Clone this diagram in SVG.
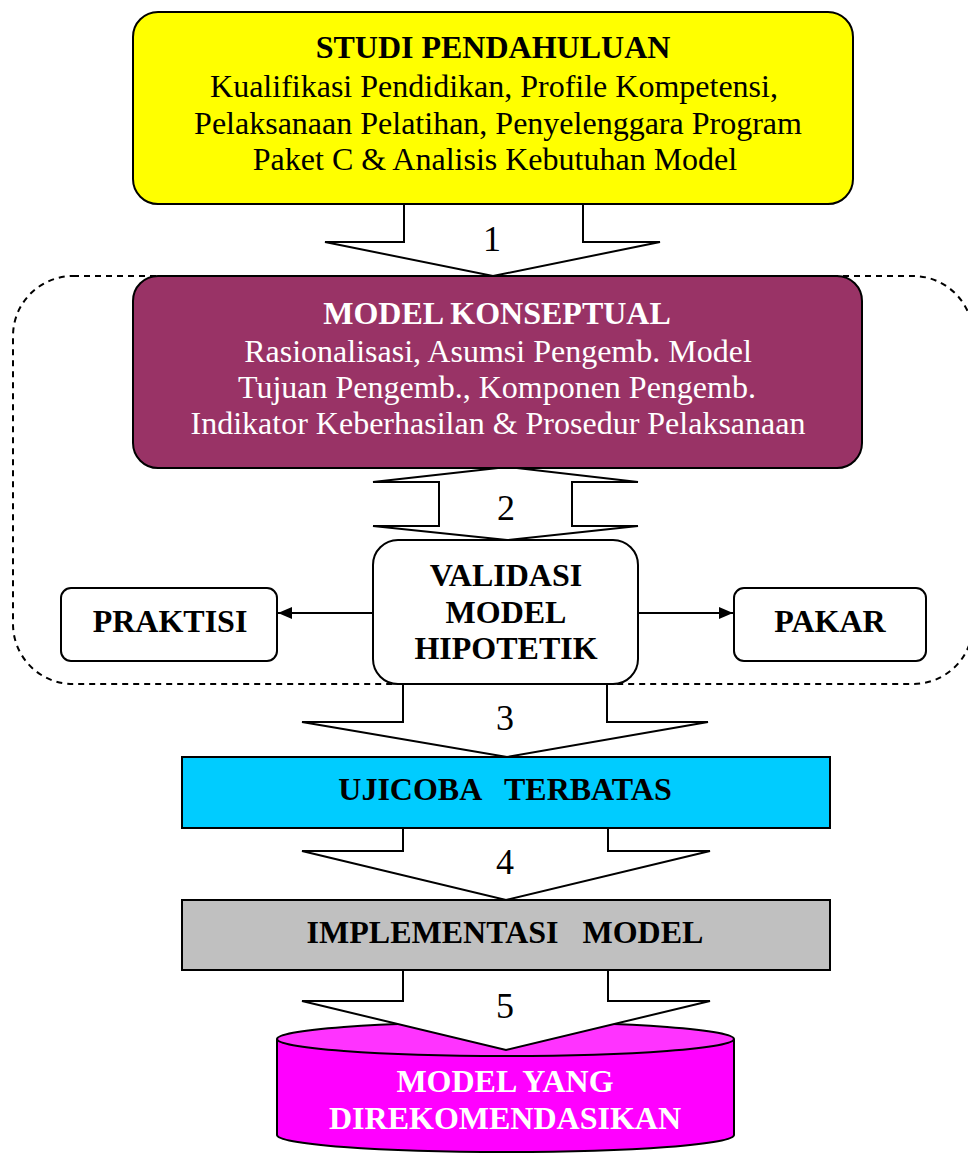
<svg xmlns="http://www.w3.org/2000/svg" width="968" height="1155" viewBox="0 0 968 1155">
<defs>
<style>
.box{stroke:#000;stroke-width:2}
.arr{fill:#fff;stroke:#000;stroke-width:2;stroke-linejoin:miter}
.t{font-family:"Liberation Serif","Times New Roman",serif;text-anchor:middle}
.b{font-weight:bold}
.num{font-family:"Liberation Serif","Times New Roman",serif;font-size:36px;text-anchor:middle}
.pre{white-space:pre}
</style>
<marker id="ah" viewBox="0 0 14 12" refX="14" refY="6" markerWidth="14" markerHeight="12" markerUnits="userSpaceOnUse" orient="auto">
<path d="M0,0 L14,6 L0,12 z" fill="#000"/>
</marker>
</defs>
<rect width="968" height="1155" fill="#fff"/>
<g id="boundary">
<rect x="13" y="276" width="960" height="408" rx="60" ry="60" fill="none" stroke="#000" stroke-width="2" stroke-dasharray="6,5"/>
</g>
<g id="connectors">
<polygon class="arr" points="404,204 404,242 325,242 493,276 660,242 583,242 583,204"/>
<polygon class="arr" points="373,482 439,482 439,526 373,526 507,540 638,526 572,526 572,482 638,482 507,467"/>
<polygon class="arr" points="403,684 403,722 302,722 507,757 708,722 607,722 607,684"/>
<polygon class="arr" points="403,828 403,851 302,851 506,900 710,851 608,851 608,828"/>
<line x1="373" y1="613" x2="278" y2="613" stroke="#000" stroke-width="2" marker-end="url(#ah)"/>
<line x1="638" y1="613" x2="733" y2="613" stroke="#000" stroke-width="2" marker-end="url(#ah)"/>
</g>
<g id="studi">
<rect class="box" x="133" y="12" width="720" height="192" rx="25" fill="#ffff00"/>
<text class="t b" x="493" y="58" font-size="32">STUDI PENDAHULUAN</text>
<text class="t" x="494" y="97" font-size="32">Kualifikasi Pendidikan, Profile Kompetensi,</text>
<text class="t" x="498" y="134" font-size="32">Pelaksanaan Pelatihan, Penyelenggara Program</text>
<text class="t" x="495" y="170" font-size="32">Paket C &amp; Analisis Kebutuhan Model</text>
</g>
<g id="konseptual">
<rect class="box" x="133" y="276" width="729" height="192" rx="25" fill="#993366"/>
<text class="t b" x="497" y="324" font-size="32" fill="#fff">MODEL KONSEPTUAL</text>
<text class="t" x="498" y="362" font-size="32" fill="#fff">Rasionalisasi, Asumsi Pengemb. Model</text>
<text class="t" x="497" y="398" font-size="32" fill="#fff">Tujuan Pengemb., Komponen Pengemb.</text>
<text class="t" x="498" y="434" font-size="32" fill="#fff">Indikator Keberhasilan &amp; Prosedur Pelaksanaan</text>
</g>
<g id="validasi">
<rect class="box" x="373" y="540" width="265" height="144" rx="25" fill="#fff"/>
<text class="t b" x="506" y="586" font-size="32">VALIDASI</text>
<text class="t b" x="506" y="623" font-size="32">MODEL</text>
<text class="t b" x="506" y="659" font-size="32">HIPOTETIK</text>
</g>
<g id="praktisi">
<rect class="box" x="61" y="588" width="216" height="73" rx="10" fill="#fff"/>
<text class="t b" x="170" y="632" font-size="32">PRAKTISI</text>
</g>
<g id="pakar">
<rect class="box" x="734" y="588" width="192" height="73" rx="10" fill="#fff"/>
<text class="t b" x="830" y="632" font-size="32">PAKAR</text>
</g>
<g id="ujicoba">
<rect class="box" x="182" y="757" width="648" height="71" fill="#00ccff"/>
<text class="t b pre" x="505" y="800" font-size="32">UJICOBA   TERBATAS</text>
</g>
<g id="implementasi">
<rect class="box" x="182" y="900" width="648" height="70" fill="#c0c0c0"/>
<text class="t b pre" x="505" y="943" font-size="32">IMPLEMENTASI   MODEL</text>
</g>
<g id="rekomendasi">
<path class="box" d="M277,1039 L277,1135 A228,17 0 0 0 734,1135 L734,1039" fill="#ff00ff"/>
<ellipse class="box" cx="505.5" cy="1039" rx="228.5" ry="17" fill="#ff33ff"/>
<text class="t b" x="505" y="1092" font-size="32" fill="#fff">MODEL YANG</text>
<text class="t b" x="505" y="1129" font-size="32" fill="#fff">DIREKOMENDASIKAN</text>
</g>
<g id="arrow5">
<polygon class="arr" points="403,970 403,1001 302,1001 506,1050 710,1001 608,1001 608,970"/>
</g>
<g id="labels">
<text class="num" x="492" y="251">1</text>
<text class="num" x="506" y="520">2</text>
<text class="num" x="505" y="730">3</text>
<text class="num" x="505" y="874">4</text>
<text class="num" x="505" y="1018">5</text>
</g>
</svg>
